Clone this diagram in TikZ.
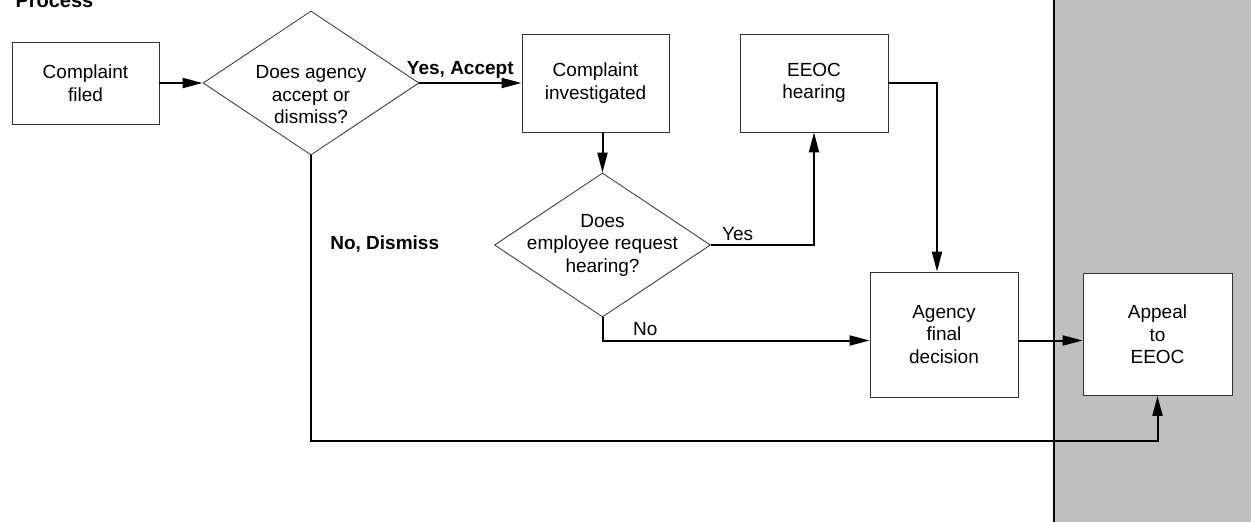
\documentclass[tikz,border=0pt]{standalone}
\usepackage{fontspec}
\setmainfont{Liberation Sans}
\usetikzlibrary{shapes.geometric, positioning, arrows.meta}

\tikzset{
  box/.style={draw=black!80, fill=white, line width=0.8pt, align=center, inner sep=0pt},
  decision/.style={diamond, draw=black!80, fill=white, line width=0.8pt,
    minimum width=216pt, minimum height=144pt, inner sep=0pt},
  flow/.style={line width=2pt, -{Triangle[length=20pt,width=10pt]}}
}

\begin{document}
\begin{tikzpicture}[x=1pt, y=-1pt, font=\fontsize{19}{22.5}\selectfont]
    \useasboundingbox (0,0) rectangle (1251,522);
    \fill[black!25] (1054,0) rectangle (1251,522);
    \draw[line width=1.5pt] (1054,0) -- (1054,522);

    \node[anchor=base west, font=\fontsize{20}{24}\selectfont\bfseries] (title) at (12,7) {Process};

    \node[box, minimum width=147pt, minimum height=82pt] (filed) at (85.5,83) {Complaint\\filed};
    \node[decision, right of=filed, node distance=225.5pt] (d1) {};
    \node[align=center] (d1txt) at ([yshift=-12pt]d1) {Does agency\\accept or\\dismiss?};
    \node[box, minimum width=147pt, minimum height=98pt, right of=d1, node distance=284.5pt] (invest) {Complaint\\investigated};
    \node[box, minimum width=148pt, minimum height=98pt, right of=invest, node distance=218.5pt] (hearing) {EEOC\\hearing};
    \node[decision, below of=invest, node distance=162pt, xshift=7pt] (d2) {};
    \node[align=center] (d2txt) at (d2) {Does\\employee request\\hearing?};
    \node[box, minimum width=148pt, minimum height=125pt] (final) at (944,334.5) {Agency\\final\\decision};
    \node[box, minimum width=149pt, minimum height=122pt, right of=final, node distance=213.5pt] (appeal) {Appeal\\to\\EEOC};

    \coordinate (fin) at ([yshift=-6pt]final.west);
    \coordinate (fout) at ([yshift=-6pt]final.east);
    \coordinate (low) at (0,441);

    \draw[flow] (filed) -- (d1);
    \draw[flow] (d1) -- node[above, pos=0.4] (yesacc) {\bfseries Yes, Accept} (invest);
    \draw[flow] (d2 |- invest.south) -- (d2.north);
    \draw[flow] (d2.east) -| node[above, pos=0.13] (yes) {Yes} (hearing.south);
    \draw[flow] (d2.south) |- node[above, pos=0.58] (no) {No} (fin);
    \draw[flow] (hearing.east) -| ([xshift=-7pt]final.north);
    \draw[flow] (fout) -- (fout -| appeal.west);
    \draw[flow] (d1.south) -- node[right=15pt, pos=0.31] (nodis) {\bfseries No, Dismiss} (d1.south |- low) -| (appeal.south);
\end{tikzpicture}
\end{document}
